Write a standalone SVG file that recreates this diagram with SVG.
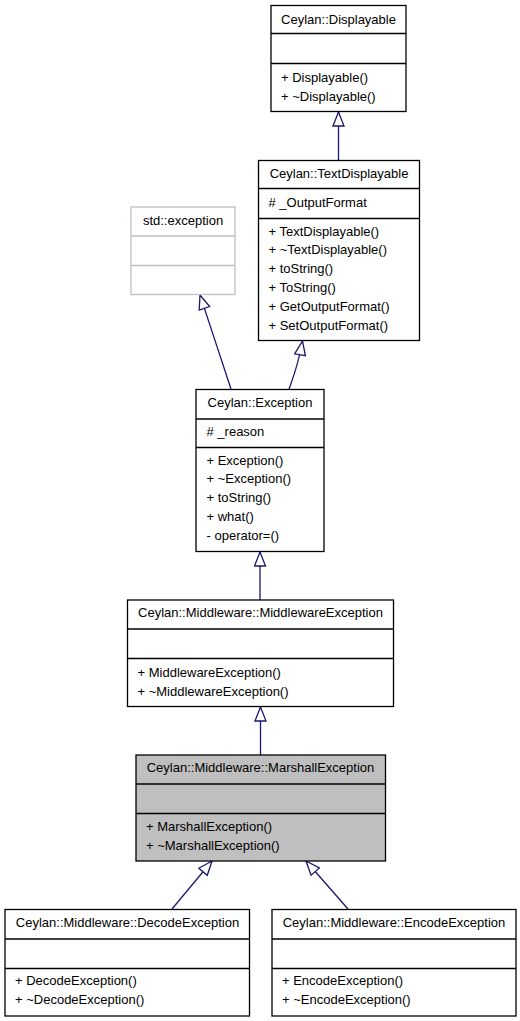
<svg xmlns="http://www.w3.org/2000/svg" width="520" height="1021" viewBox="0 0 520 1021">
<style>
.box{fill:#ffffff;stroke:#000000;stroke-width:1.3}
.sel{fill:#bfbfbf;stroke:#000000;stroke-width:1.3}
.ext{fill:#ffffff;stroke:#bfbfbf;stroke-width:1.3}
.div{stroke:#000000;stroke-width:1.3}
.divx{stroke:#bfbfbf;stroke-width:1.3}
text{font-family:"Liberation Sans",Arial,sans-serif;font-size:13px;fill:#000000}
.t{text-anchor:middle}
.edge{fill:none;stroke:#191970;stroke-width:1.3;marker-end:url(#inh)}
</style>
<defs>
<marker id="inh" markerUnits="userSpaceOnUse" markerWidth="16" markerHeight="13" viewBox="-1 -1 16 13" refX="14" refY="5.5" orient="auto">
<path d="M0,0 L14,5.5 L0,11 Z" fill="#ffffff" stroke="#191970" stroke-width="1.3"/>
</marker>
</defs>
<rect width="520" height="1021" fill="#ffffff"/>
<g id="connectors">
<path class="edge" d="M338.5,160 L338.5,112"/>
<path class="edge" d="M231,389 C222,362 210,325 200,295"/>
<path class="edge" d="M289,389 C293,378 298,366 302.5,341"/>
<path class="edge" d="M260,600 L260,552"/>
<path class="edge" d="M260.5,755 L260.5,707"/>
<path class="edge" d="M172,909 L212,861"/>
<path class="edge" d="M348,909 L306,861"/>
</g>
<g id="Displayable">
<rect class="box" x="271" y="5.5" width="135" height="106"/>
<line class="div" x1="271" y1="33.5" x2="406" y2="33.5"/>
<line class="div" x1="271" y1="63.5" x2="406" y2="63.5"/>
<text class="t" x="338.5" y="24">Ceylan::Displayable</text>
<text x="281" y="81.5">+ Displayable()</text>
<text x="281" y="101">+ ~Displayable()</text>
</g>
<g id="TextDisplayable">
<rect class="box" x="258.5" y="160.5" width="161" height="180"/>
<line class="div" x1="258.5" y1="188.5" x2="419.5" y2="188.5"/>
<line class="div" x1="258.5" y1="218.5" x2="419.5" y2="218.5"/>
<text class="t" x="339" y="177.5">Ceylan::TextDisplayable</text>
<text x="268.5" y="207">#  _OutputFormat</text>
<text x="268.5" y="235.5">+ TextDisplayable()</text>
<text x="268.5" y="254.3">+ ~TextDisplayable()</text>
<text x="268.5" y="273.1">+ toString()</text>
<text x="268.5" y="291.9">+ ToString()</text>
<text x="268.5" y="310.7">+ GetOutputFormat()</text>
<text x="268.5" y="329.5">+ SetOutputFormat()</text>
</g>
<g id="std_exception">
<rect class="ext" x="131" y="207" width="104" height="87.5"/>
<line class="divx" x1="131" y1="236" x2="235" y2="236"/>
<line class="divx" x1="131" y1="265.5" x2="235" y2="265.5"/>
<text class="t" x="183" y="224.5">std::exception</text>
</g>
<g id="Exception">
<rect class="box" x="196" y="389.5" width="128" height="162"/>
<line class="div" x1="196" y1="419" x2="324" y2="419"/>
<line class="div" x1="196" y1="447.5" x2="324" y2="447.5"/>
<text class="t" x="260" y="407">Ceylan::Exception</text>
<text x="206.5" y="436">#  _reason</text>
<text x="206.5" y="464.5">+ Exception()</text>
<text x="206.5" y="483.4">+ ~Exception()</text>
<text x="206.5" y="502.3">+ toString()</text>
<text x="206.5" y="521.2">+ what()</text>
<text x="206.5" y="540.1">- operator=()</text>
</g>
<g id="MiddlewareException">
<rect class="box" x="127.5" y="600" width="266" height="106.5"/>
<line class="div" x1="127.5" y1="629" x2="393.5" y2="629"/>
<line class="div" x1="127.5" y1="658.5" x2="393.5" y2="658.5"/>
<text class="t" x="260.5" y="617">Ceylan::Middleware::MiddlewareException</text>
<text x="137.5" y="677">+ MiddlewareException()</text>
<text x="137.5" y="695.5">+ ~MiddlewareException()</text>
</g>
<g id="MarshallException">
<rect class="sel" x="136" y="755" width="249.5" height="106"/>
<line class="div" x1="136" y1="784" x2="385.5" y2="784"/>
<line class="div" x1="136" y1="813.5" x2="385.5" y2="813.5"/>
<text class="t" x="260.5" y="772">Ceylan::Middleware::MarshallException</text>
<text x="146" y="831">+ MarshallException()</text>
<text x="146" y="849.5">+ ~MarshallException()</text>
</g>
<g id="DecodeException">
<rect class="box" x="5" y="909.5" width="244.5" height="106.5"/>
<line class="div" x1="5" y1="939" x2="249.5" y2="939"/>
<line class="div" x1="5" y1="968.5" x2="249.5" y2="968.5"/>
<text class="t" x="127.5" y="927">Ceylan::Middleware::DecodeException</text>
<text x="15" y="985">+ DecodeException()</text>
<text x="15" y="1004">+ ~DecodeException()</text>
</g>
<g id="EncodeException">
<rect class="box" x="272" y="909.5" width="244" height="106.5"/>
<line class="div" x1="272" y1="939" x2="516" y2="939"/>
<line class="div" x1="272" y1="968.5" x2="516" y2="968.5"/>
<text class="t" x="394" y="927">Ceylan::Middleware::EncodeException</text>
<text x="282" y="985">+ EncodeException()</text>
<text x="282" y="1004">+ ~EncodeException()</text>
</g>
</svg>
